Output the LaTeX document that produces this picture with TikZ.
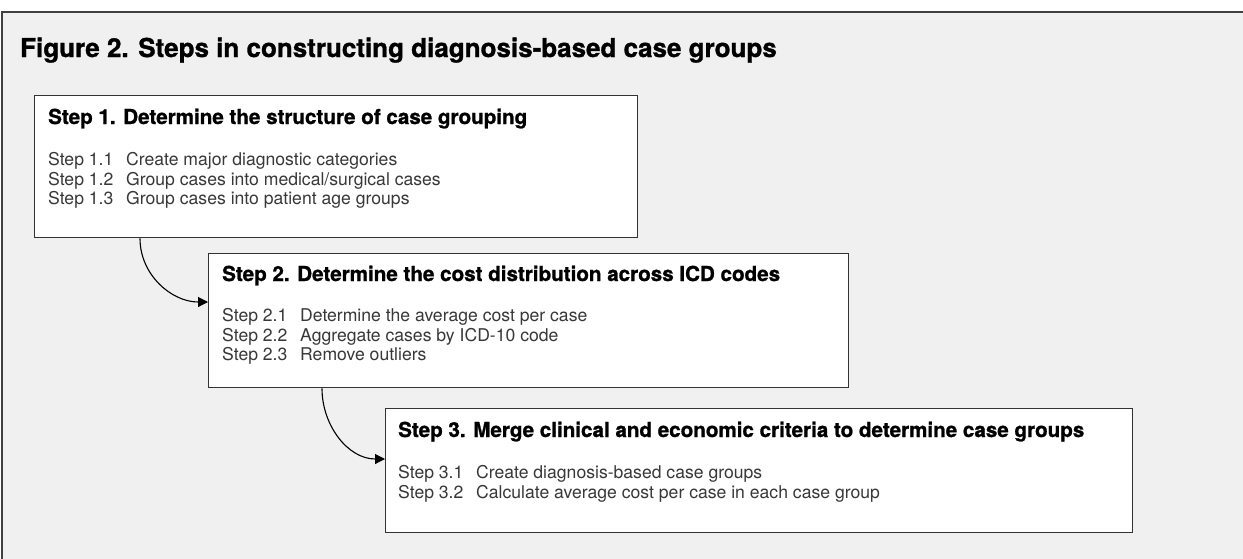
\documentclass[tikz,border=0pt]{standalone}
\usepackage{fontspec}
\setmainfont{TeX Gyre Heros}
\newfontfamily\headfont{texgyreheros-bold.otf}[FakeBold=1.1]
\usetikzlibrary{arrows.meta,calc}
\definecolor{panelgray}{HTML}{F0F0F0}
\definecolor{edgegray}{HTML}{333333}
\tikzset{
  stepbox/.style={draw=edgegray,line width=1.4pt,fill=white,anchor=north west,inner sep=0pt},
  titletext/.style={anchor=base west,inner sep=0pt,font=\headfont\fontsize{26}{30}\selectfont},
  headtext/.style={anchor=base west,inner sep=0pt,font=\headfont\fontsize{20.6}{24}\selectfont},
  bodytext/.style={anchor=base west,inner sep=0pt,text=black!78,font=\fontsize{17.6}{20}\selectfont},
  flow/.style={line width=1.1pt,-{Triangle[length=10pt,width=10pt]}}
}

\begin{document}
\begin{tikzpicture}[x=1pt,y=-1pt]
\useasboundingbox (0,0) rectangle (1243,558);
%panel
\fill[panelgray] (2,12) rectangle (1250,565);
\draw[line width=2pt,black!75] (1250,12)--(2,12)--(2,565);
\node[titletext] (title) at (20,57) {Figure 2. Steps in constructing diagnosis-based case groups};
%boxes
\node[stepbox,minimum width=603,minimum height=142] (s1) at (34,95) {};
\node[stepbox,minimum width=640,minimum height=134] (s2) at (208,253) {};
\node[stepbox,minimum width=747,minimum height=124] (s3) at (385,408) {};
%headings
\node[headtext] (h1) at ($(s1.north west)+(14,29)$) {Step 1. Determine the structure of case grouping};
\node[headtext] (h2) at ($(s2.north west)+(14,28)$) {Step 2. Determine the cost distribution across ICD codes};
\node[headtext] (h3) at ($(s3.north west)+(13,29)$) {Step 3. Merge clinical and economic criteria to determine case groups};
%sub steps
\foreach \n/\t [count=\i] in {1.1/{Create major diagnostic categories},1.2/{Group cases into medical/surgical cases},1.3/{Group cases into patient age groups}}
  \node[bodytext] (b1\i) at ($(s1.north west)+(14,51+19.5*\i)$) {\makebox[78pt][l]{Step \n}\t};
\foreach \n/\t [count=\i] in {2.1/{Determine the average cost per case},2.2/{Aggregate cases by ICD-10 code},2.3/{Remove outliers}}
  \node[bodytext] (b2\i) at ($(s2.north west)+(14,49+19.5*\i)$) {\makebox[78pt][l]{Step \n}\t};
\foreach \n/\t [count=\i] in {3.1/{Create diagnosis-based case groups},3.2/{Calculate average cost per case in each case group}}
  \node[bodytext] (b3\i) at ($(s3.north west)+(13,51+19.5*\i)$) {\makebox[78pt][l]{Step \n}\t};
%arrows
\draw[flow] ([xshift=106]s1.south west) to[out=-90,in=180] ([yshift=-49]s2.north west);
\draw[flow] ([xshift=114]s2.south west) to[out=-90,in=180] ([yshift=-51]s3.north west);
\end{tikzpicture}
\end{document}
